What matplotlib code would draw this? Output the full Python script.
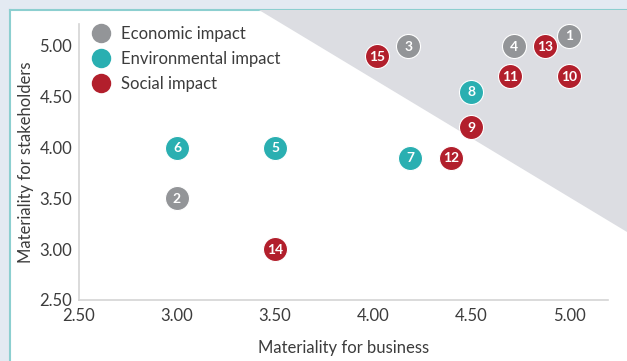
import matplotlib
matplotlib.use("Agg")
import matplotlib.pyplot as plt
from matplotlib.patches import Rectangle, Polygon
from matplotlib.lines import Line2D

plt.rcParams['font.family'] = ['Lato', 'DejaVu Sans']

labels = ["1", "2", "3", "4", "5", "6", "7", "8", "9", "10", "11", "12", "13", "14", "15"]
business = [5.0, 3.0, 4.18, 4.72, 3.5, 3.0, 4.19, 4.5, 4.5, 5.0, 4.7, 4.4, 4.88, 3.5, 4.02]
stakeholders = [5.1, 3.5, 5.0, 5.0, 4.0, 4.0, 3.9, 4.55, 4.2, 4.7, 4.7, 3.9, 5.0, 3.0, 4.9]
category = ["Economic impact", "Economic impact", "Economic impact", "Economic impact",
            "Environmental impact", "Environmental impact", "Environmental impact", "Environmental impact",
            "Social impact", "Social impact", "Social impact", "Social impact", "Social impact",
            "Social impact", "Social impact"]
categories = ["Economic impact", "Environmental impact", "Social impact"]
colors = {"Economic impact": "#939598", "Environmental impact": "#2aafb1", "Social impact": "#b21f2c"}
xticks = [2.5, 3.0, 3.5, 4.0, 4.5, 5.0]
yticks = [2.5, 3.0, 3.5, 4.0, 4.5, 5.0]

W, H = 627, 361
fig = plt.figure(figsize=(W / 100, H / 100), dpi=100)
fig.patch.set_facecolor("#e3eaf2")

# white panel with teal border
fig.patches.append(Rectangle((10 / W, 0), 1, 1 - 10 / H, transform=fig.transFigure,
                             facecolor="white", edgecolor="none", zorder=-5))
fig.add_artist(Line2D([10 / W, 10 / W], [0, 1 - 10 / H], transform=fig.transFigure,
                      color="#8ccfd0", lw=1.5, zorder=-4))
fig.add_artist(Line2D([10 / W, 1], [1 - 10 / H, 1 - 10 / H], transform=fig.transFigure,
                      color="#8ccfd0", lw=1.5, zorder=-4))

ax = fig.add_axes([79 / W, 1 - 300 / H, (608 - 79) / W, (300 - 24) / H])
ax.set_facecolor("none")
ax.set_xlim(2.5, 2.5 + (608 - 79) / 196)
ax.set_ylim(2.5, 2.5 + (300 - 24) / 101.6)

# grey triangle region (extends past axes)
tri = Polygon([[3.42, 5.35], [5.32, 5.35], [5.32, 3.14]], closed=True,
              facecolor="#dcdde2", edgecolor="none", clip_on=False, zorder=0.5)
ax.add_patch(tri)

for x, y, lab, cat in zip(business, stakeholders, labels, category):
    ax.scatter(x, y, s=300, color=colors[cat], edgecolors="white", linewidths=0.8, zorder=3)
    ax.text(x, y - 0.005, lab, color="white", fontsize=10, fontweight="bold",
            ha="center", va="center", zorder=4)

handles = [Line2D([], [], marker="o", linestyle="none", markersize=14,
                  markerfacecolor=colors[c], markeredgecolor="none") for c in categories]
leg = ax.legend(handles, categories, loc="upper left", bbox_to_anchor=(0.0, 1.012),
                frameon=False, fontsize=12, handletextpad=0.2, labelspacing=0.55,
                labelcolor="#3c3c3c", borderaxespad=0.2, borderpad=0.1)

ax.set_xticks(xticks)
ax.set_xticklabels([f"{t:.2f}" for t in xticks])
ax.set_yticks(yticks)
ax.set_yticklabels([f"{t:.2f}" for t in yticks])
ax.tick_params(length=0, labelsize=12, labelcolor="#3c3c3c")
ax.tick_params(axis="x", pad=6)
ax.tick_params(axis="y", pad=5)
for s in ["top", "right"]:
    ax.spines[s].set_visible(False)
for s in ["left", "bottom"]:
    ax.spines[s].set_color("#d4d4d4")
    ax.spines[s].set_linewidth(1.2)
ax.set_xlabel("Materiality for business", fontsize=12, color="#3c3c3c", labelpad=11)
ax.set_ylabel("Materiality for stakeholders", fontsize=12, color="#3c3c3c", labelpad=4)

fig.savefig("out.png", dpi=100, facecolor=fig.get_facecolor())
